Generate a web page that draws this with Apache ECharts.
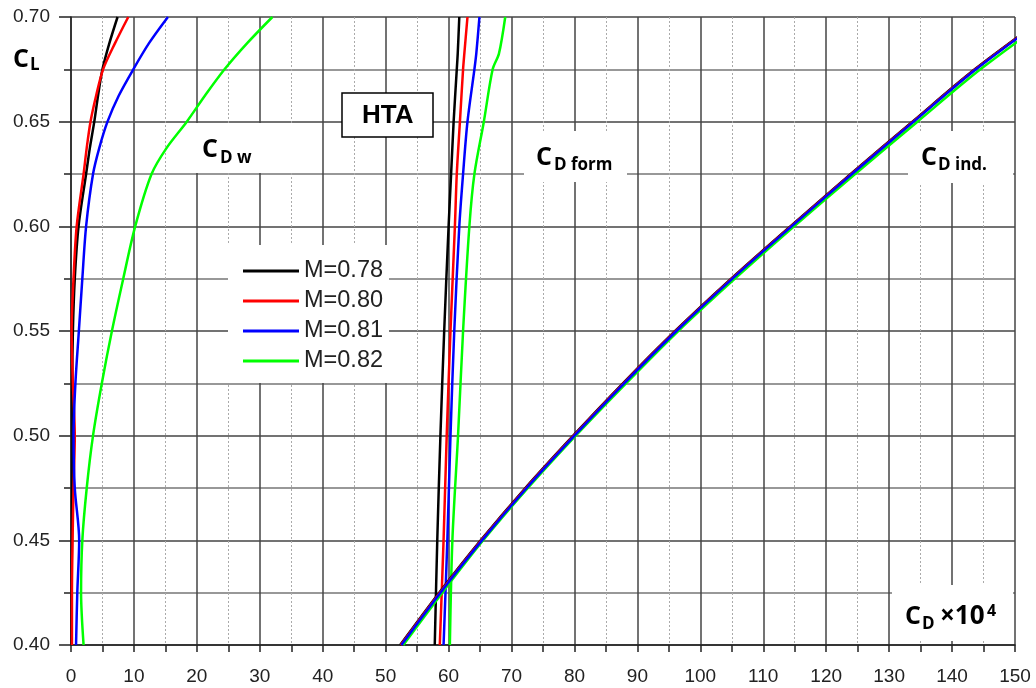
<!DOCTYPE html>
<html>
<head>
<meta charset="utf-8">
<script src="https://cdn.jsdelivr.net/npm/echarts@6/dist/echarts.min.js"></script>
<style>
  html, body { margin: 0; padding: 0; background: #fff; }
  #chart { width: 1036px; height: 688px; }
</style>
</head>
<body>
<div id="chart"></div>
<script>
// Mach numbers (legend)
const machNames = ['M=0.78', 'M=0.80', 'M=0.81', 'M=0.82'];
const machColors = ['#000000', '#ff0000', '#0000ff', '#00ff00'];

// wave drag C_D w (x1e4) vs CL
const clWave = [0.40, 0.425, 0.45, 0.475, 0.50, 0.525, 0.55, 0.575, 0.60, 0.625, 0.6375, 0.65, 0.6625, 0.675, 0.6875, 0.70];
const wave078 = [0.1, 0.1, 0.15, 0.2, 0.25, 0.2, 0.3, 0.6, 1.2, 2.4, 3.0, 3.7, 4.3, 5.0, 6.1, 7.4];
const wave080 = [0.15, 0.15, 0.25, 0.4, 0.6, 0.3, 0.1, 0.4, 0.9, 2.0, 2.5, 3.1, 4.0, 5.1, 7.0, 9.1];
const wave081 = [0.8, 1.0, 1.3, 0.6, 0.4, 0.7, 1.25, 1.8, 2.4, 3.5, 4.5, 5.8, 7.6, 9.9, 12.4, 15.4];
const wave082 = [2.0, 1.6, 1.8, 2.5, 3.5, 4.9, 6.5, 8.3, 10.2, 12.8, 15.2, 18.4, 21.3, 24.4, 28.0, 32.0];

// form drag C_D form
const clForm = [0.40, 0.45, 0.50, 0.55, 0.60, 0.625, 0.65, 0.675, 0.6825, 0.70];
const form078 = [57.8, 58.2, 58.7, 59.3, 60.0, 60.4, 60.8, 61.3, 61.45, 61.7];
const form080 = [58.6, 59.2, 59.7, 60.3, 61.0, 61.3, 61.8, 62.3, 62.5, 63.0];
const form081 = [59.2, 59.8, 60.3, 60.9, 61.7, 62.3, 63.0, 64.1, 64.4, 64.9];
const form082 = [60.2, 60.6, 61.5, 62.3, 63.3, 64.1, 65.6, 67.0, 68.0, 69.0];

// induced drag C_D ind.
const clInd = [0.40, 0.425, 0.45, 0.475, 0.50, 0.525, 0.55, 0.575, 0.60, 0.625, 0.65, 0.675, 0.70];
const ind078 = [52.3, 58.5, 65.1, 72.2, 79.8, 87.7, 96.0, 104.9, 114.3, 123.9, 133.7, 143.6, 154.8];
const ind080 = [52.4, 58.6, 65.2, 72.3, 79.9, 87.8, 96.1, 105.0, 114.4, 124.0, 133.8, 143.7, 154.9];
const ind081 = [52.5, 58.7, 65.3, 72.4, 80.0, 87.9, 96.2, 105.1, 114.5, 124.1, 133.9, 143.8, 155.0];
const ind082 = [52.8, 59.0, 65.5, 72.6, 80.2, 88.2, 96.5, 105.5, 114.9, 124.6, 134.5, 144.5, 155.8];

// x axis ticks
const xTicks = [0, 10, 20, 30, 40, 50, 60, 70, 80, 90, 100, 110, 120, 130, 140, 150];

function pairs(xs, ys) {
	return xs.map((x, i) => [x, ys[i]]);
}

function makeSeries(idx, xs, ys) {
	return {
		name: machNames[idx],
		type: 'line',
		data: pairs(xs, ys),
		symbol: 'none',
		smooth: 0.3,
		lineStyle: {color: machColors[idx], width: 2.5},
		itemStyle: {color: machColors[idx]},
		z: 2
	};
}

let series = [];
// wave drag
[wave078, wave080, wave081, wave082].forEach((d, i) => series.push(makeSeries(i, d, clWave)));
// form drag
[form078, form080, form081, form082].forEach((d, i) => series.push(makeSeries(i, d, clForm)));
// induced drag (blue on top)
[[0, ind078], [1, ind080], [3, ind082], [2, ind081]].forEach(([i, d]) => series.push(makeSeries(i, d, clInd)));

const labFont = '"Open Sans", "DejaVu Sans", sans-serif';

// white label box behind text
function box(x, y, w, h, border) {
	return {
		type: 'rect', z: 1,
		shape: {x: x, y: y, width: w, height: h},
		style: {fill: '#fff', stroke: border ? '#000' : null, lineWidth: border ? 1.5 : 0}
	};
}
// y is roughly the top of the capitals
function txt(x, y, s, size, family) {
	return {
		type: 'text', z: 3, x: x, y: y - Math.round(size * 0.12),
		style: {
			text: s, fill: '#000',
			font: 'bold ' + size + 'px ' + (family || labFont),
			align: 'left', verticalAlign: 'top'
		}
	};
}

let chart = echarts.init(document.getElementById('chart'), null, {renderer: 'canvas'});
let option = {
	animation: false,
	backgroundColor: '#fff',
	grid: {left: 71, right: 21, top: 17, bottom: 43},
	legend: {
		data: machNames,
		orient: 'vertical',
		left: 228, top: 245,
		backgroundColor: '#fff',
		padding: [14, 6, 10, 15],
		icon: 'rect',
		itemWidth: 56, itemHeight: 3, itemGap: 6,
		textStyle: {fontSize: 23.5, color: '#222', fontFamily: 'Liberation Sans, Arial, sans-serif', lineHeight: 23},
		z: 5
	},
	xAxis: {
		type: 'value',
		min: 0, max: 150, interval: 10,
		axisLine: {show: true, lineStyle: {color: '#222', width: 1.5}},
		axisTick: {show: true, length: 7, lineStyle: {color: '#222', width: 1.5}},
		minorTick: {show: true, splitNumber: 2, length: 7, lineStyle: {color: '#222', width: 1.5}},
		splitLine: {show: true, lineStyle: {color: '#444', width: 1.5}},
		minorSplitLine: {show: true, lineStyle: {color: '#aaa', width: 1, type: [2, 2]}},
		axisLabel: {
			fontSize: 19, color: '#222', margin: 22, fontFamily: 'Liberation Sans, Arial, sans-serif',
			formatter: v => xTicks.includes(v) ? String(v) : ''
		}
	},
	yAxis: {
		type: 'value',
		min: 0.40, max: 0.70, interval: 0.05,
		axisLine: {show: true, lineStyle: {color: '#222', width: 1.5}},
		axisTick: {show: true, length: 12, lineStyle: {color: '#222', width: 1.5}},
		minorTick: {show: true, splitNumber: 2, length: 7, lineStyle: {color: '#222', width: 1.5}},
		splitLine: {show: true, lineStyle: {color: '#444', width: 1.5}},
		minorSplitLine: {show: true, lineStyle: {color: '#777', width: 1.5}},
		axisLabel: {
			fontSize: 19, color: '#222', margin: 21, fontFamily: 'Liberation Sans, Arial, sans-serif',
			formatter: v => v.toFixed(2)
		}
	},
	graphic: [
		// C_L axis title
		txt(13, 50, 'C', 25),
		txt(30, 59, 'L', 17),
		// C_D w
		box(195, 123, 97, 50),
		txt(202, 140, 'C', 25),
		txt(220, 152, 'D w', 17),
		// HTA
		box(342, 93, 91, 44, true),
		txt(362, 106, 'HTA', 26, '"Liberation Sans", Arial, sans-serif'),
		// C_D form
		box(524, 131, 103, 51),
		txt(536, 148, 'C', 25),
		txt(554, 159, 'D form', 17),
		// C_D ind.
		box(908, 131, 105, 52),
		txt(921, 148, 'C', 25),
		txt(938, 159, 'D ind.', 17),
		// C_D x10^4
		box(892, 585, 121, 56),
		txt(905, 607, 'C', 25),
		txt(922, 618, 'D', 17),
		txt(940, 607, '\u00d710', 26),
		txt(987, 605, '4', 16)
	],
	series: series
};
chart.setOption(option);
</script>
</body>
</html>
